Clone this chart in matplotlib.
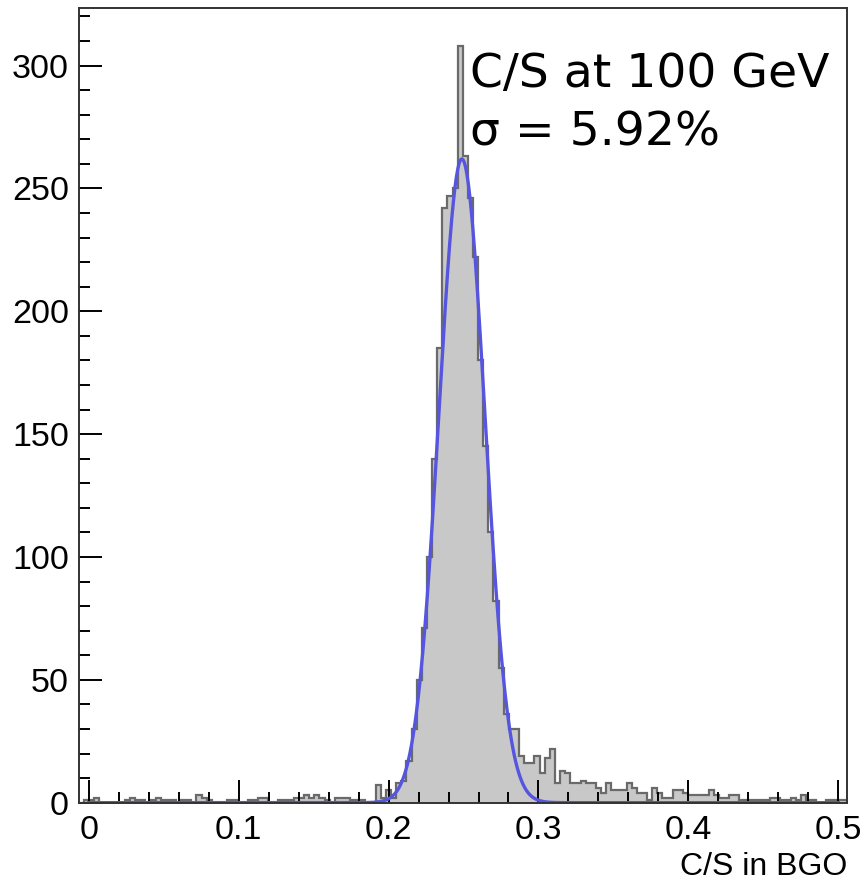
import numpy as np
import matplotlib
matplotlib.use("Agg")
import matplotlib.pyplot as plt
from matplotlib.ticker import MultipleLocator

# histogram: 150 bins of C/S in BGO
x_min, x_max = -0.0067, 0.5057
counts = [
    0, 1, 1, 2, 0, 0, 0, 0, 0, 1,
    2, 1, 1, 0, 1, 2, 1, 1, 1, 0,
    1, 1, 0, 3, 2, 1, 0, 0, 0, 1,
    1, 0, 0, 1, 1, 2, 2, 0, 0, 1,
    1, 1, 2, 2, 3, 2, 3, 2, 1, 0,
    2, 2, 2, 1, 1, 1, 0, 0, 7, 2,
    5, 2, 8, 9, 17, 30, 50, 71, 100, 140,
    185, 242, 247, 250, 308, 263, 246, 222, 180, 145,
    110, 82, 55, 36, 30, 30, 19, 16, 16, 19,
    12, 18, 22, 8, 13, 12, 8, 8, 9, 8,
    8, 6, 4, 8, 5, 5, 5, 8, 6, 4,
    4, 1, 6, 4, 2, 2, 5, 5, 4, 3,
    3, 3, 3, 5, 3, 2, 2, 3, 3, 1,
    1, 1, 1, 1, 1, 2, 2, 1, 1, 2,
    1, 3, 1, 1, 0, 0, 1, 1, 1, 1,
]

# gaussian fit parameters
fit_amp = 262.0
fit_mean = 0.2489
fit_sigma = 0.0153
fit_range = (0.0, 0.5)

edges = np.linspace(x_min, x_max, len(counts) + 1)
xf = np.linspace(fit_range[0], fit_range[1], 1000)
yf = fit_amp * np.exp(-0.5 * ((xf - fit_mean) / fit_sigma) ** 2)

fig = plt.figure(figsize=(8.65, 8.81), dpi=100)
ax = fig.add_axes([0.091, 0.0889, 0.888, 0.902])

ax.stairs(counts, edges, fill=True, color="#c8c8c8", lw=0)
ax.stairs(counts, edges, color="#6a6a6a", lw=1.6)
ax.plot(xf, yf, color="#5555e0", lw=2.4)

ax.set_xlim(x_min, x_max)
ax.set_ylim(0, max(counts) * 1.05)

ax.xaxis.set_major_locator(MultipleLocator(0.1))
ax.xaxis.set_minor_locator(MultipleLocator(0.02))
ax.yaxis.set_major_locator(MultipleLocator(50))
ax.yaxis.set_minor_locator(MultipleLocator(10))
ax.xaxis.set_major_formatter(lambda v, p: f"{v:g}")

ax.tick_params(which="both", direction="in", top=False, right=False,
               colors="black", width=1.4)
ax.tick_params(which="major", length=16.5)
ax.tick_params(which="minor", length=8)
ax.tick_params(axis="x", which="major", pad=9)
ax.tick_params(axis="y", which="major", pad=7)
for lab in ax.get_xticklabels() + ax.get_yticklabels():
    lab.set_fontfamily("Liberation Sans")
    lab.set_fontsize(24.5)
    lab.set_color("black")

for s in ax.spines.values():
    s.set_linewidth(1.4)
    s.set_color("#333333")

ax.set_xlabel("C/S in BGO", fontsize=23, family="Liberation Sans",
              color="black", loc="right", labelpad=4)

ax.text(0.509, 0.9006, "C/S at 100 GeV", transform=ax.transAxes,
        fontsize=34, family="DejaVu Sans", va="baseline")
ax.text(0.509, 0.8276, "σ = 5.92%", transform=ax.transAxes,
        fontsize=34, family="DejaVu Sans", va="baseline")

fig.savefig("out.png", dpi=100)
